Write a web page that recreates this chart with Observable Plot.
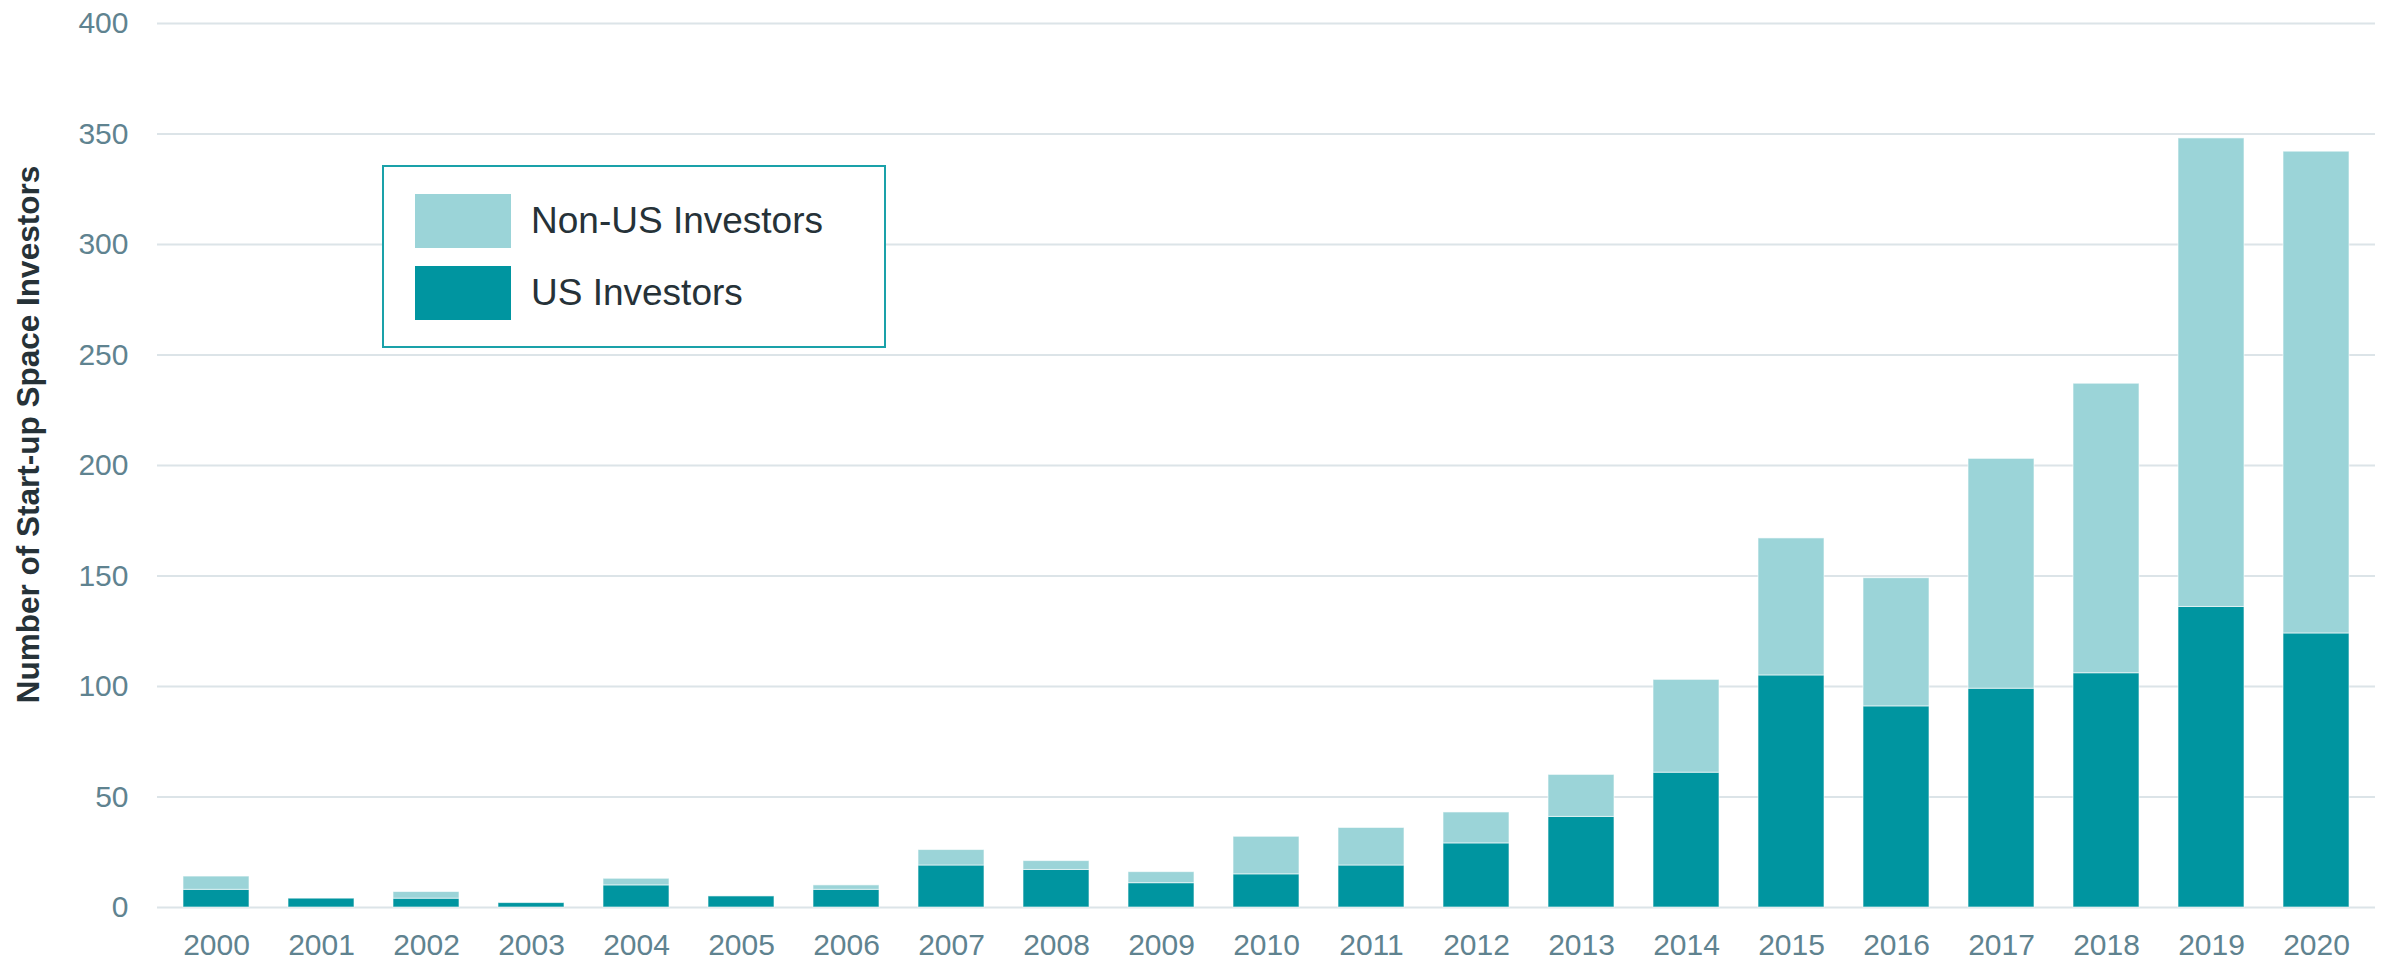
<!DOCTYPE html>
<html>
<head>
<meta charset="utf-8">
<script src="https://cdn.jsdelivr.net/npm/d3@7"></script>
<script src="https://cdn.jsdelivr.net/npm/@observablehq/plot@0.6"></script>
<style>
  html, body { margin: 0; padding: 0; background: #fff; }
  #wrap { position: relative; width: 2384px; height: 962px; font-family: "Liberation Sans", Arial, sans-serif; }
  #legend { position: absolute; left: 382px; top: 165px; width: 500px; height: 179px; border: 2px solid #1aa1a9; background: #fff; box-sizing: content-box; }
  .li { position: absolute; left: 31px; height: 54px; display: flex; align-items: center; }
  .sw { width: 96px; height: 54px; margin-right: 20px; }
  .lt { font-size: 37px; color: #263238; white-space: nowrap; }
</style>
</head>
<body>
<div id="wrap"></div>
<script>
const years = ["2000","2001","2002","2003","2004","2005","2006","2007","2008","2009","2010","2011","2012","2013","2014","2015","2016","2017","2018","2019","2020"];
const usInvestors    = [8, 4, 4, 2, 10, 5, 8, 19, 17, 11, 15, 19, 29, 41, 61, 105, 91, 99, 106, 136, 124];
const nonUsInvestors = [6, 0, 3, 0, 3, 0, 2, 7, 4, 5, 17, 17, 14, 19, 42, 62, 58, 104, 131, 212, 218];
const seriesNames = ["US Investors", "Non-US Investors"];
const seriesColors = ["#0095a0", "#9bd4d8"];
const yTicks = [0, 50, 100, 150, 200, 250, 300, 350, 400];
const yTitle = "Number of Start-up Space Investors";

const rows = [];
years.forEach((yr, i) => {
  rows.push({year: yr, series: seriesNames[0], value: usInvestors[i]});
  rows.push({year: yr, series: seriesNames[1], value: nonUsInvestors[i]});
});

const tickColor = "#5f8390";

const chart = Plot.plot({
  width: 2384,
  height: 962,
  marginLeft: 157,
  marginRight: 9,
  marginTop: 23,
  marginBottom: 55,
  style: {fontFamily: "'Liberation Sans', Arial, sans-serif", background: "#fff"},
  x: {domain: years, paddingInner: 0.375, paddingOuter: 0.1875, label: null},
  y: {domain: [0, 400], label: null},
  color: {domain: seriesNames, range: seriesColors},
  marks: [
    Plot.gridY(yTicks, {stroke: "#dce4e8", strokeOpacity: 1, strokeWidth: 2}),
    Plot.barY(rows, {x: "year", y: "value", fill: "series", stroke: "#ffffff", strokeWidth: 1, strokeOpacity: 0.6}),
    Plot.axisY(yTicks, {tickSize: 0, tickPadding: 29, fontSize: 30, fill: tickColor, label: null}),
    Plot.axisX({tickSize: 0, tickPadding: 26, fontSize: 30, fill: tickColor, label: null}),
    Plot.text([yTitle], {text: d => d, frameAnchor: "left", textAnchor: "middle", lineAnchor: "middle", rotate: -90, dx: -129, dy: -31, fontSize: 31.5, fontWeight: "bold", fill: "#263238"})
  ]
});

const wrap = document.getElementById("wrap");
wrap.appendChild(chart);

const legend = document.createElement("div");
legend.id = "legend";
const items = [[seriesNames[1], seriesColors[1]], [seriesNames[0], seriesColors[0]]];
items.forEach(([name, col], i) => {
  const li = document.createElement("div");
  li.className = "li";
  li.style.top = (i === 0 ? 27 : 99) + "px";
  const sw = document.createElement("div");
  sw.className = "sw";
  sw.style.background = col;
  const lt = document.createElement("span");
  lt.className = "lt";
  lt.textContent = name;
  li.appendChild(sw);
  li.appendChild(lt);
  legend.appendChild(li);
});
wrap.appendChild(legend);
</script>
</body>
</html>
